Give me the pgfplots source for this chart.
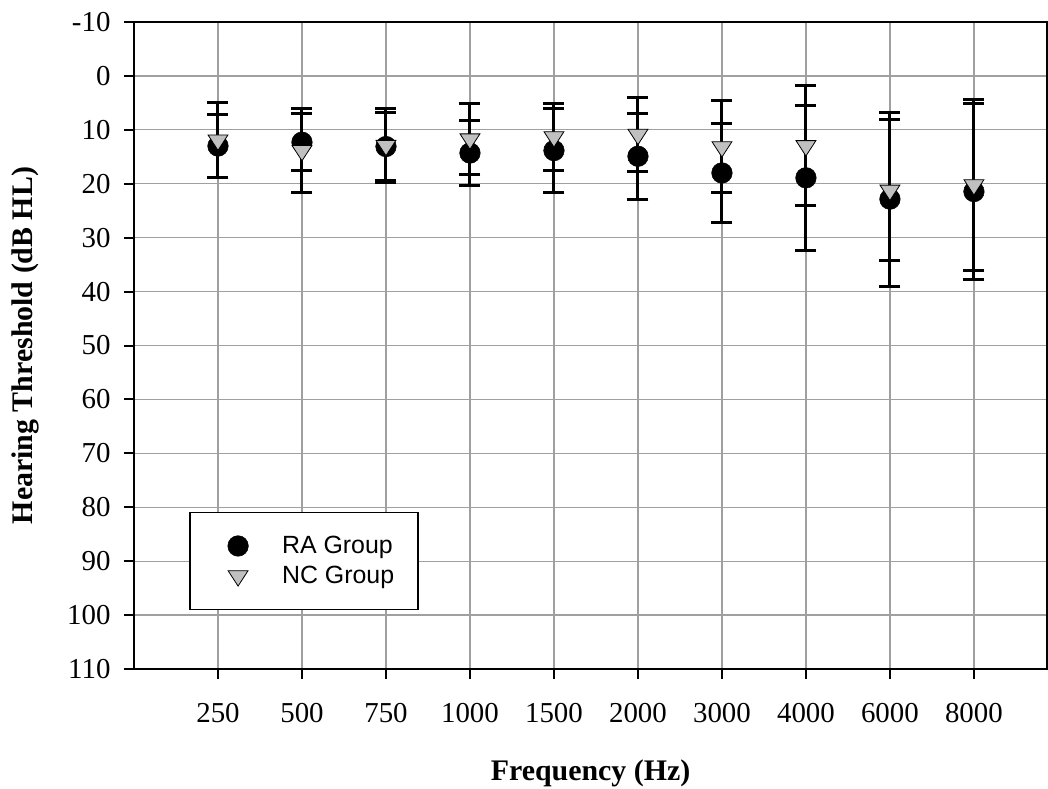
\documentclass[border=0pt]{standalone}
\usepackage{fontspec}
\setmainfont{Liberation Serif}
\newfontfamily\arialfont{Liberation Sans}
\usepackage{pgfplots}
\pgfplotsset{compat=1.18}
\definecolor{tri}{HTML}{C0C0C0}
\definecolor{gridc}{HTML}{A0A0A0}
\begin{document}
\begin{tikzpicture}
\begin{axis}[
 name=ax,
 scale only axis, width=913bp, height=647bp,
 xmin=-1, xmax=9.87, ymin=-10, ymax=110, y dir=reverse,
 xtick={0,...,9}, xticklabels={250,500,750,1000,1500,2000,3000,4000,6000,8000},
 ytick={-10,0,10,20,30,40,50,60,70,80,90,100,110},
 yticklabels={-10,0,10,20,30,40,50,60,70,80,90,100,110},
 tick pos=left, tick align=outside, major tick length=10bp,
 tick style={black, line width=2bp},
 axis line style={black, line width=2.2bp},
 grid=major, major grid style={color=gridc, line width=1.2bp},
 ticklabel style={font=\fontsize{29}{33}\selectfont},
 yticklabel style={xshift=-10bp},
 xticklabel style={yshift=-21bp},
 xlabel={\textbf{Frequency (Hz)}}, ylabel={\textbf{Hearing Threshold (dB HL)}},
 every axis x label/.style={at={(axis description cs:0.5,0)}, anchor=base, yshift=-111bp, inner sep=0pt, font=\fontsize{30}{34}\selectfont},
 every axis y label/.style={at={(axis description cs:0,0.5)}, xshift=-122bp, rotate=90, anchor=north, inner sep=0pt, font=\fontsize{30}{34}\selectfont},
 legend style={at={(axis description cs:0.0606,0.243)}, anchor=north west,
   draw=black, line width=1.5bp, fill=white,
   font=\arialfont\fontsize{25}{28}\selectfont,
   inner xsep=22bp, inner ysep=22bp, column sep=16bp, row sep=7bp},
 legend cell align=left,
 legend image code/.code={\path[draw=none,fill=none] (0bp,-11bp) rectangle (52bp,11bp); \draw[mark repeat=2,mark phase=2,#1] plot coordinates {(0bp,0bp) (26bp,0bp) (52bp,0bp)};},
]
\addplot[only marks, mark=*, mark size=10.3bp, black,
  mark options={fill=black, draw=black, line width=0.5bp},
  error bars/.cd, y dir=both, y explicit,
  error bar style={line width=3bp, black},
  error mark options={line width=3bp, mark size=10.5bp, black, rotate=90}]
 table[x=x, y=y, y error=e] {
x y e
0 13.0 5.8
1 12.3 5.3
2 13.1 6.3
3 14.3 6.1
4 13.85 7.85
5 14.9 8.0
6 18.0 9.2
7 18.9 13.4
8 22.85 16.15
9 21.45 16.35
};
\addlegendentry{RA Group}
\addplot[only marks, mark=triangle*, mark size=11.5bp, black,
  mark options={rotate=180, yscale=0.89, fill=tri, draw=black, line width=0.8bp},
  error bars/.cd, y dir=both, y explicit,
  error bar style={line width=3bp, black},
  error mark options={line width=3bp, mark size=10.5bp, black, rotate=90}]
 table[x=x, y=y, y error=e] {
x y e
0 11.9 6.9
1 13.85 7.85
2 12.9 6.8
3 11.7 6.5
4 11.3 6.2
5 10.85 6.85
6 13.15 8.55
7 12.95 11.15
8 21.2 13.1
9 20.2 15.8
};
\addlegendentry{NC Group}
\end{axis}
\pgfresetboundingbox
\path ([xshift=-134bp,yshift=-120bp]ax.south west) rectangle ([xshift=1bp,yshift=22bp]ax.north east);
\end{tikzpicture}
\end{document}
